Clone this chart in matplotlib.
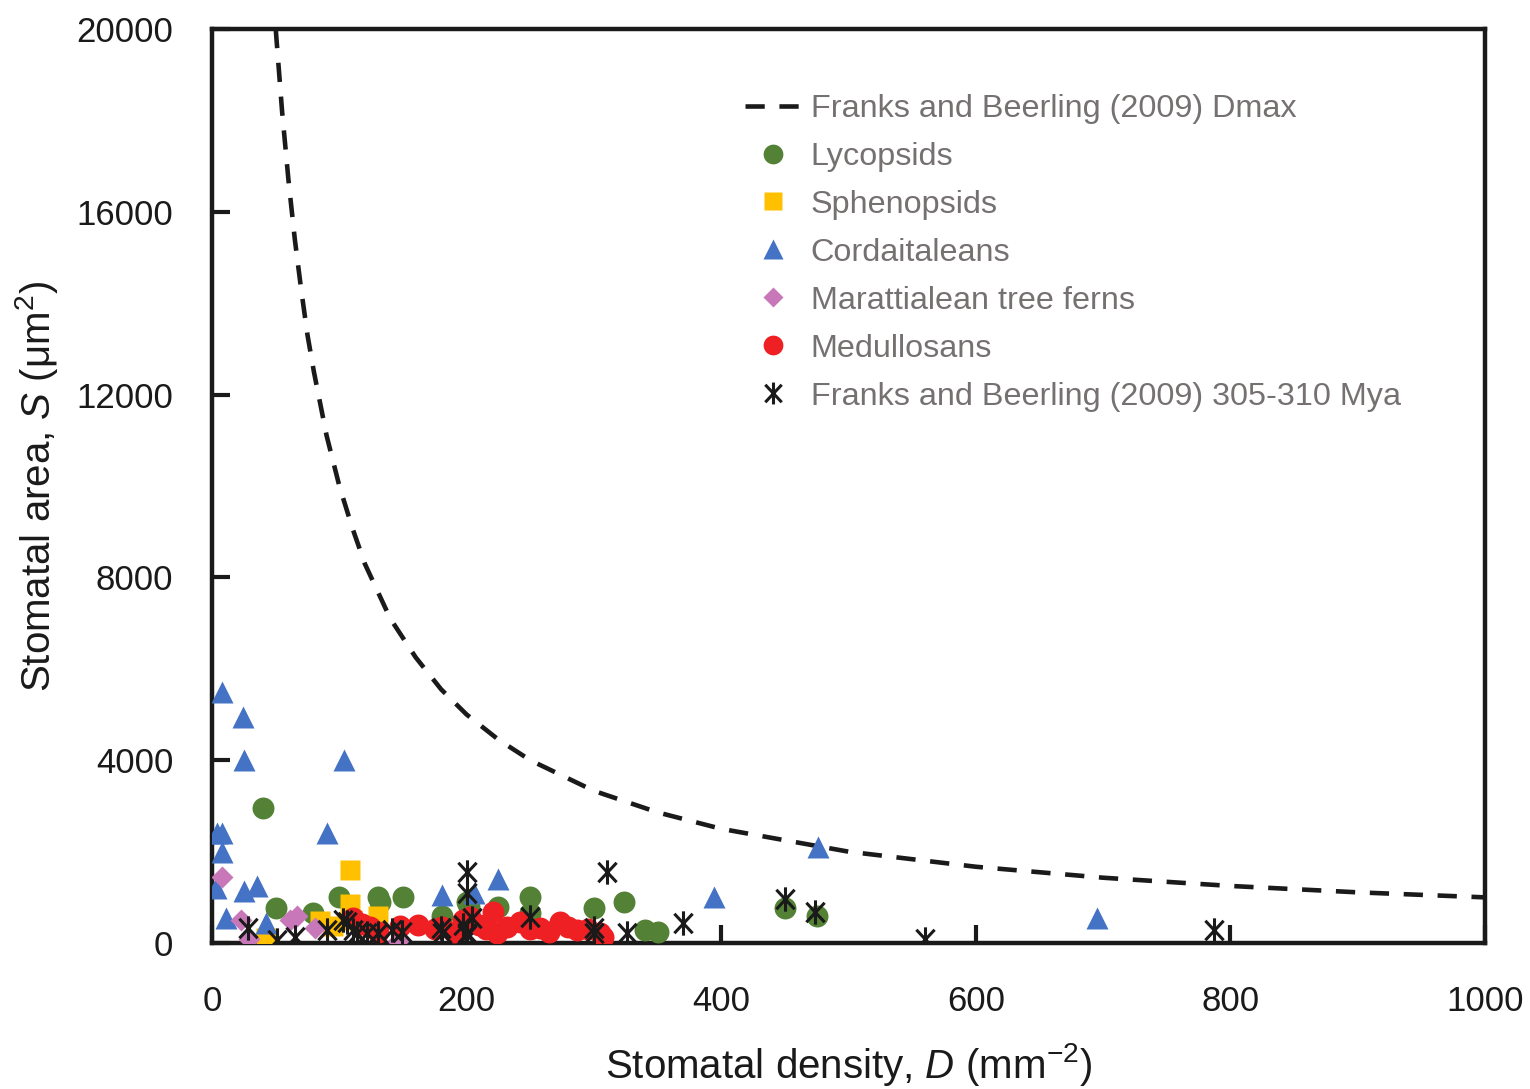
import matplotlib
matplotlib.use("Agg")
import matplotlib.pyplot as plt
from matplotlib.path import Path

plt.rcParams['font.family'] = ['Liberation Sans', 'DejaVu Sans']
plt.rcParams['mathtext.fontset'] = 'custom'
plt.rcParams['mathtext.rm'] = 'Liberation Sans'
plt.rcParams['mathtext.it'] = 'Liberation Sans:italic'

# Dmax curve
dmax_d = [50, 55, 60, 65, 70, 75, 80, 90, 100, 110, 120, 140, 160, 180, 200, 225, 250,
          300, 350, 400, 500, 600, 700, 800, 900, 1000]
dmax_s = [20000, 18200, 16700, 15400, 14300, 13300, 12500, 11100, 10000, 9100, 8300,
          7100, 6250, 5550, 5000, 4450, 4000, 3330, 2860, 2500, 2000, 1670, 1430, 1250,
          1110, 1000]

lyco_d = [40, 50, 79, 100, 130, 150, 132, 181, 200, 202, 225, 250, 250, 300, 324, 340,
          350, 450, 475]
lyco_s = [2950, 770, 650, 1000, 1000, 1000, 900, 600, 900, 800, 800, 1000, 650, 770,
          900, 280, 250, 770, 600]

spheno_d = [108, 108, 130, 85, 95, 42, 110]
spheno_s = [1600, 850, 600, 480, 380, 120, 500]

corda_d = [8, 24, 25, 104, 4, 8, 8, 3, 90, 25, 35, 11, 42, 181, 206, 225, 394, 476, 695]
corda_s = [5500, 4950, 4000, 4000, 2400, 2400, 2000, 1200, 2400, 1150, 1250, 550, 450,
           1050, 1100, 1400, 1000, 2100, 550]

maratt_d = [8, 23, 29, 61, 67, 81, 146]
maratt_s = [1450, 500, 100, 500, 600, 320, 50]

medul_d = [111, 118, 124, 130, 148, 162, 175, 181, 190, 197, 203, 210, 215, 221, 224,
           232, 242, 250, 258, 265, 273, 280, 287, 295, 305, 307]
medul_s = [550, 420, 350, 250, 370, 390, 300, 350, 250, 500, 570, 400, 300, 680, 220,
           350, 460, 300, 330, 250, 460, 350, 280, 300, 220, 130]

fb_d = [28, 51, 65, 90, 106, 114, 122, 130, 103, 111, 141, 149, 180, 181, 197, 200, 200,
        200, 204, 200, 250, 300, 300, 310, 326, 370, 450, 474, 560, 787]
fb_s = [330, 60, 130, 280, 460, 220, 220, 220, 500, 280, 280, 240, 330, 220, 390, 1550,
        1100, 175, 550, 220, 570, 330, 220, 1550, 220, 430, 960, 680, 90, 290]

x_ticks = [0, 200, 400, 600, 800, 1000]
y_ticks = [0, 4000, 8000, 12000, 16000, 20000]

# asterisk marker: vertical bar with an X
star = Path([(0, -1), (0, 1), (-0.75, -0.8), (0.75, 0.8), (-0.75, 0.8), (0.75, -0.8)],
            [Path.MOVETO, Path.LINETO, Path.MOVETO, Path.LINETO, Path.MOVETO, Path.LINETO])

fig = plt.figure(figsize=(15.3, 10.89), dpi=100)
ax = fig.add_axes([0.1386, 0.134, 0.832, 0.8394])

ax.plot(dmax_d, dmax_s, color='#1a1a1a', lw=3.3, dashes=(4.2, 3.2),
        label='Franks and Beerling (2009) Dmax', zorder=2)
ax.plot(lyco_d, lyco_s, 'o', color='#538135', ms=15.8, mec='none',
        label='Lycopsids', zorder=3)
ax.plot(spheno_d, spheno_s, 's', color='#FFC000', ms=14.5, mec='none',
        label='Sphenopsids', zorder=3)
ax.plot(corda_d, corda_s, '^', color='#4472C4', ms=16.5, mec='none',
        label='Cordaitaleans', zorder=3)
ax.plot(maratt_d, maratt_s, 'D', color='#C878B8', ms=11.5, mec='none',
        label='Marattialean tree ferns', zorder=3)
ax.plot(medul_d, medul_s, 'o', color='#EE2024', ms=15.8, mec='none',
        label='Medullosans', zorder=3)
ax.plot(fb_d, fb_s, marker=star, ls='none', color='#1a1a1a', ms=17.5, mew=2.2,
        label='Franks and Beerling (2009) 305-310 Mya', zorder=4)

ax.set_xlim(0, 1000)
ax.set_ylim(0, 20000)
ax.set_xticks(x_ticks)
ax.set_yticks(y_ticks)
ax.tick_params(direction='in', length=13, width=3, labelsize=25, color='#1a1a1a',
               labelcolor='#1a1a1a')
ax.tick_params(axis='x', pad=30)
ax.tick_params(axis='y', pad=28)
for sp in ax.spines.values():
    sp.set_linewidth(3.2)
    sp.set_color('#1a1a1a')

ax.set_xlabel('Stomatal density, $D$ (mm$^{-2}$)', fontsize=29, labelpad=17,
              color='#1a1a1a')
ax.set_ylabel('Stomatal area, $S$ (μm$^{2}$)', fontsize=29, labelpad=12,
              color='#1a1a1a')

leg = ax.legend(loc='upper left', bbox_to_anchor=(0.419, 0.929), frameon=False,
                fontsize=23.3, labelspacing=0.555, handlelength=1.7, handletextpad=0.32,
                borderpad=0, borderaxespad=0, markerscale=0.9)
for t in leg.get_texts():
    t.set_color('#767171')

fig.savefig('out.png', dpi=100)
